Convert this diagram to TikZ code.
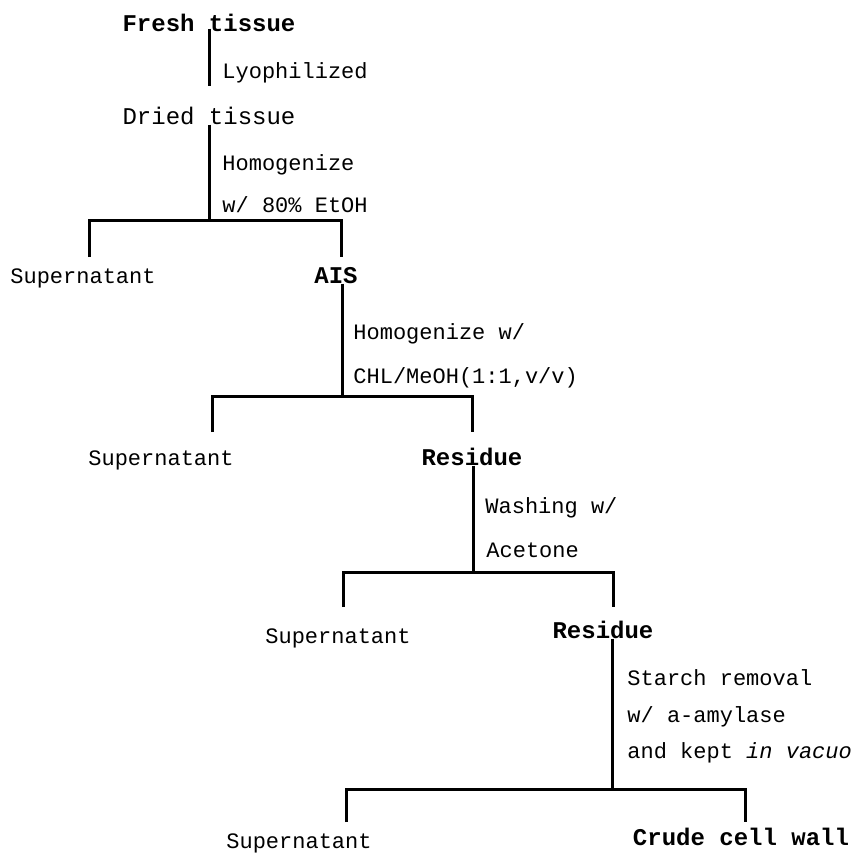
\documentclass[tikz,border=0pt]{standalone}
\usepackage{fontspec}
\setmainfont{Liberation Mono}
\usepackage{tikz}
\usetikzlibrary{positioning}

\tikzset{
    step text/.style={anchor=base, inner sep=0pt, font=\fontsize{11}{13}\selectfont},
    stage text/.style={anchor=base, inner sep=0pt, font=\fontsize{12}{14}\selectfont\bfseries},
    note text/.style={anchor=base west, inner sep=0pt, font=\fontsize{11}{13}\selectfont},
    flow line/.style={line width=1.5pt, line join=miter}
}

\begin{document}
\begin{tikzpicture}[x=0.5pt, y=-0.5pt]
            \useasboundingbox (0,0) rectangle (862,867);

            % --- STAGES ---
            \node[stage text] (fresh) at (209,32) {Fresh tissue};
            \node[step text, font=\fontsize{12}{14}\selectfont] (dried) at (209,124) {Dried tissue};
            \node[step text]  (sup1)  at (83,283) {Supernatant};
            \node[stage text] (ais)   at (336,283) {AIS};
            \node[step text]  (sup2)  at (161,465) {Supernatant};
            \node[stage text] (res1)  at (472,465) {Residue};
            \node[step text]  (sup3)  at (338,643) {Supernatant};
            \node[stage text] (res2)  at (603,638) {Residue};
            \node[step text]  (sup4)  at (299,848) {Supernatant};
            \node[stage text] (crude) at (741,845) {Crude cell wall};

            % --- TREATMENTS ---
            \node[note text] (lyo)   at (222,78) {Lyophilized};
            \node[note text] (hom1)  at (222,170) {Homogenize};
            \node[note text] (etoh)  at (222,212) {w/ 80\% EtOH};
            \node[note text] (hom2)  at (353,339) {Homogenize w/};
            \node[note text] (chl)   at (353,383) {CHL/MeOH(1:1,v/v)};
            \node[note text] (wash)  at (485,513) {Washing w/};
            \node[note text] (acet)  at (486,557) {Acetone};
            \node[note text] (starch) at (627,685) {Starch removal};
            \node[note text] (amyl)  at (627,722) {w/ a-amylase};
            \node[note text] (vacuo) at (627,758) {and kept \textit{in vacuo}};

            % --- JUNCTIONS ---
            \coordinate (s1) at (209,220);
            \coordinate (d1l) at (89,257);
            \coordinate (d1r) at (341,257);
            \coordinate (s2) at (342,396);
            \coordinate (d2l) at (212,432);
            \coordinate (d2r) at (472,432);
            \coordinate (s3) at (473,572);
            \coordinate (d3l) at (343,607);
            \coordinate (d3r) at (613,607);
            \coordinate (s4) at (612,789);
            \coordinate (d4l) at (346,822);
            \coordinate (d4r) at (745,822);

            % --- CONNECTORS ---
            \draw[flow line, shorten <=-2pt, shorten >=10pt] (fresh.south) -- (dried.north);
            \draw[flow line] (dried.south) -- (s1);
            \draw[flow line] (d1l) |- (s1) -| (d1r);

            \draw[flow line] (ais.south -| s2) -- (s2);
            \draw[flow line] (d2l) |- (s2) -| (d2r);

            \draw[flow line] (res1.south -| s3) -- (s3);
            \draw[flow line] (d3l) |- (s3) -| (d3r);

            \draw[flow line] (res2.south -| s4) -- (s4);
            \draw[flow line] (d4l) |- (s4) -| (d4r);

        \end{tikzpicture}
\end{document}
